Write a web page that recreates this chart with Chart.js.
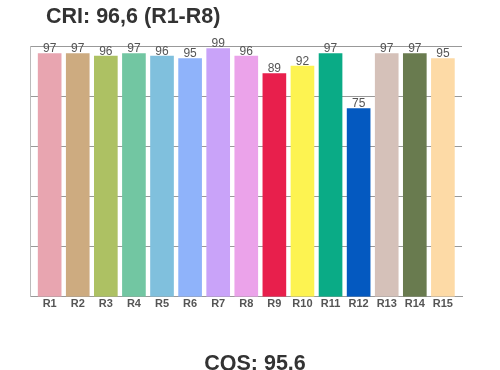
<!DOCTYPE html>
<html>
<head>
<meta charset="utf-8">
<script src="https://cdn.jsdelivr.net/npm/chart.js@4/dist/chart.umd.min.js"></script>
<style>
  html, body { margin: 0; padding: 0; background: #fff; }
  #wrap { width: 500px; height: 370px; }
</style>
</head>
<body>
<div id="wrap"><canvas id="criChart" width="500" height="370"></canvas></div>
<script>
/******************************************************************
DATA
******************************************************************/
var labels = ["R1", "R2", "R3", "R4", "R5", "R6", "R7", "R8", "R9", "R10", "R11", "R12", "R13", "R14", "R15"];
var values = [97, 97, 96, 97, 96, 95, 99, 96, 89, 92, 97, 75, 97, 97, 95];
var colors = ["#e8a5b0", "#cdab80", "#adc163", "#72c6a2", "#80c0dd", "#8fb3fa", "#c9a3f9", "#eba3ea",
              "#e81f4c", "#fdf351", "#0aab86", "#0459c0", "#d5c1b9", "#697b4f", "#fddaa6"];
var titleText = "CRI: 96,6 (R1-R8)";
var footerText = "CQS: 95.6";

/******************************************************************
PLUGINS
******************************************************************/
var textPlugin = {
  id: 'textPlugin',
  afterDraw: function (chart) {
    var ctx = chart.ctx;
    ctx.save();
    ctx.fillStyle = "#333";
    ctx.font = "bold 21.5px 'Liberation Sans', Arial, sans-serif";
    ctx.textBaseline = "alphabetic";
    ctx.textAlign = "left";
    ctx.fillText(titleText, 46, 23);
    ctx.textAlign = "center";
    ctx.fillText(footerText, 255, 370);

    // value labels above bars
    ctx.font = "12px 'Liberation Sans', Arial, sans-serif";
    ctx.fillStyle = "#555";
    ctx.textAlign = "center";
    ctx.textBaseline = "alphabetic";
    chart.getDatasetMeta(0).data.forEach(function (bar, i) {
      ctx.fillText(values[i], bar.x, bar.y - 1.5);
    });
    ctx.restore();
  }
};

/******************************************************************
CHART
******************************************************************/
var ctx = document.getElementById('criChart').getContext('2d');
var chart = new Chart(ctx, {
  type: 'bar',
  data: {
    datasets: [{
      data: values.map(function (v, i) { return { x: i + 1, y: v }; }),
      backgroundColor: colors,
      borderWidth: 0,
      barThickness: 23
    }]
  },
  options: {
    responsive: false,
    animation: false,
    layout: { padding: { left: 30, right: 38, top: 46, bottom: 58 } },
    plugins: {
      legend: { display: false },
      tooltip: { enabled: false }
    },
    scales: {
      x: {
        type: 'linear',
        min: 0.3,
        max: 15.68,
        offset: false,
        afterBuildTicks: function (axis) {
          axis.ticks = labels.map(function (l, i) { return { value: i + 1 }; });
        },
        ticks: {
          autoSkip: false,
          maxRotation: 0,
          padding: 1,
          color: "#555",
          font: { family: "'Liberation Sans', Arial, sans-serif", size: 11, weight: 'bold' },
          callback: function (value) { return labels[value - 1]; }
        },
        grid: { display: false, drawTicks: false },
        border: { display: true, color: "#999", width: 1 }
      },
      y: {
        min: 0,
        max: 100,
        ticks: { display: false, stepSize: 20 },
        grid: { color: "#999", lineWidth: 1, drawTicks: false },
        border: { display: true, color: "#bbb", width: 1 }
      }
    }
  },
  plugins: [textPlugin]
});
</script>
</body>
</html>
